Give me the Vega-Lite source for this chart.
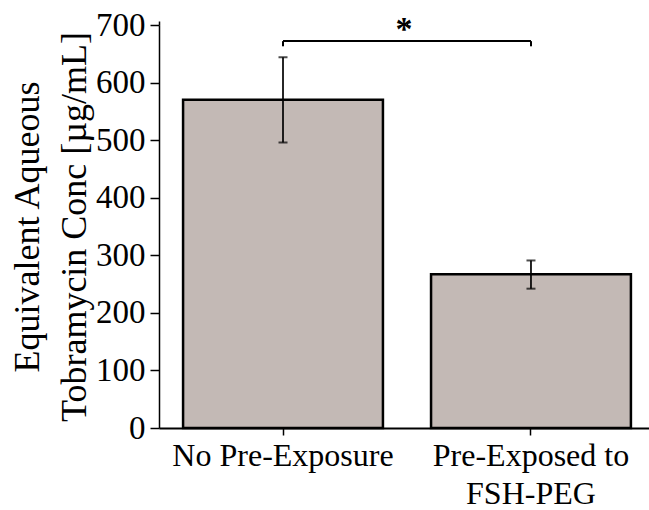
{
  "$schema": "https://vega.github.io/schema/vega-lite/v6.json",
  "width": 490,
  "height": 403,
  "autosize": {"type": "none"},
  "padding": {"left": 159, "top": 25, "right": 0, "bottom": 82},
  "background": "white",
  "config": {
    "view": {"stroke": null},
    "axis": {
      "labelFont": "Liberation Serif",
      "titleFont": "Liberation Serif",
      "labelFontSize": 33,
      "titleFontSize": 36,
      "titleFontWeight": "normal",
      "labelColor": "black",
      "titleColor": "black",
      "domainColor": "black",
      "tickColor": "black",
      "labelLimit": 500,
      "grid": false
    }
  },
  "datasets": {
    "bars": [
      {"group": "No Pre-Exposure", "conc": 570, "lo": 496, "hi": 644},
      {"group": "Pre-Exposed to FSH-PEG", "conc": 267, "lo": 242, "hi": 291}
    ],
    "bracket": [
      {"a": "No Pre-Exposure", "b": "Pre-Exposed to FSH-PEG", "y": 672, "yEnd": 663, "star": 674, "label": "*"}
    ]
  },
  "resolve": {"axis": {"x": "independent", "y": "independent"}},
  "layer": [
    {
      "data": {"name": "bars"},
      "mark": {"type": "bar", "fill": "#c3b9b5", "stroke": "black", "strokeWidth": 2.5},
      "encoding": {
        "x": {
          "field": "group", "type": "nominal", "sort": null,
          "scale": {"paddingInner": 0.194, "paddingOuter": 0.085, "align": 0.571},
          "axis": {
            "title": null, "labelAngle": 0, "tickSize": 7, "tickWidth": 1.5,
            "domainWidth": 2, "labelPadding": 5, "labelLineHeight": 38, "labelFontSize": 32,
            "labelExpr": "datum.value == 'Pre-Exposed to FSH-PEG' ? ['Pre-Exposed to', 'FSH-PEG'] : datum.value"
          }
        },
        "y": {
          "field": "conc", "type": "quantitative",
          "scale": {"domain": [0, 700], "nice": false},
          "axis": {
            "values": [0, 100, 200, 300, 400, 500, 600, 700],
            "tickSize": 9, "tickWidth": 1.5, "domainWidth": 1.5, "labelPadding": 5,
            "title": ["Equivalent Aqueous", "Tobramycin Conc [µg/mL]"],
            "titleLineHeight": 47, "titlePadding": 2
          }
        }
      }
    },
    {
      "data": {"name": "bars"},
      "mark": {"type": "rule", "color": "black", "strokeWidth": 1.7},
      "encoding": {
        "x": {
          "field": "group", "type": "nominal", "sort": null,
          "axis": {"title": null, "labels": false, "domain": false, "tickSize": 4, "tickWidth": 1.5, "bandPosition": -0.12}
        },
        "y": {
          "field": "lo", "type": "quantitative",
          "axis": {"title": null, "labels": false, "domain": false, "tickSize": 5, "tickWidth": 1.5,
                   "values": [50, 150, 250, 350, 450, 550, 650]}
        },
        "y2": {"field": "hi"}
      }
    },
    {
      "data": {"name": "bars"},
      "mark": {"type": "tick", "color": "black", "size": 9, "thickness": 2, "orient": "horizontal"},
      "encoding": {
        "x": {"field": "group", "type": "nominal", "sort": null, "axis": null},
        "y": {"field": "lo", "type": "quantitative", "axis": null}
      }
    },
    {
      "data": {"name": "bars"},
      "mark": {"type": "tick", "color": "black", "size": 9, "thickness": 2, "orient": "horizontal"},
      "encoding": {
        "x": {"field": "group", "type": "nominal", "sort": null, "axis": null},
        "y": {"field": "hi", "type": "quantitative", "axis": null}
      }
    },
    {
      "data": {"name": "bracket"},
      "mark": {"type": "rule", "color": "black", "strokeWidth": 2},
      "encoding": {
        "x": {"field": "a", "type": "nominal", "axis": null},
        "x2": {"field": "b"},
        "y": {"field": "y", "type": "quantitative", "axis": null}
      }
    },
    {
      "data": {"name": "bracket"},
      "mark": {"type": "rule", "color": "black", "strokeWidth": 2},
      "encoding": {
        "x": {"field": "a", "type": "nominal", "axis": null},
        "y": {"field": "yEnd", "type": "quantitative", "axis": null},
        "y2": {"field": "y"}
      }
    },
    {
      "data": {"name": "bracket"},
      "mark": {"type": "rule", "color": "black", "strokeWidth": 2},
      "encoding": {
        "x": {"field": "b", "type": "nominal", "axis": null},
        "y": {"field": "yEnd", "type": "quantitative", "axis": null},
        "y2": {"field": "y"}
      }
    },
    {
      "data": {"name": "bracket"},
      "mark": {"type": "text", "font": "Liberation Serif", "fontSize": 34, "fontWeight": "bold", "color": "black", "baseline": "alphabetic", "align": "center"},
      "encoding": {
        "x": {"field": "a", "type": "nominal", "axis": null, "bandPosition": 1.105},
        "y": {"field": "star", "type": "quantitative", "axis": null},
        "text": {"field": "label"}
      }
    }
  ]
}
